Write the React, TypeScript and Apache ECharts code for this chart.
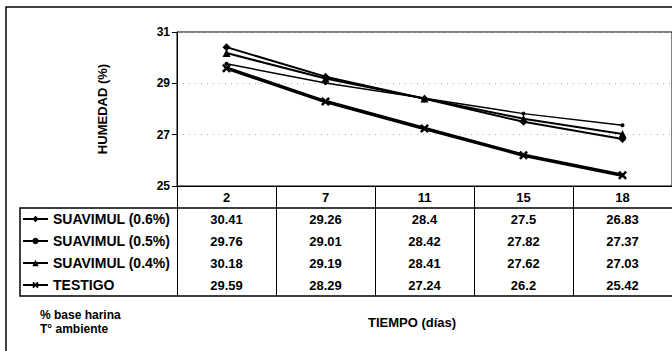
import React, { useEffect, useRef } from "react";
import * as echarts from "echarts";

const categories = ["2", "7", "11", "15", "18"];
const seriesNames = ["SUAVIMUL (0.6%)", "SUAVIMUL (0.5%)", "SUAVIMUL (0.4%)", "TESTIGO"];
const suav06 = [30.41, 29.26, 28.4, 27.5, 26.83];
const suav05 = [29.76, 29.01, 28.42, 27.82, 27.37];
const suav04 = [30.18, 29.19, 28.41, 27.62, 27.03];
const testigo = [29.59, 28.29, 27.24, 26.2, 25.42];
const yTicks = { min: 25, max: 31, interval: 2 };
const yTitle = "HUMEDAD (%)";
const xTitle = "TIEMPO (días)";
const footnote = ["% base harina", "T° ambiente"];

const FONT = "Arial, 'Liberation Sans', sans-serif";
const X_SYMBOL =
  "path://M2,0 L5,3 L8,0 L10,2 L7,5 L10,8 L8,10 L5,7 L2,10 L0,8 L3,5 L0,2 Z";

export default function App() {
  const ref = useRef<HTMLDivElement>(null);
  useEffect(() => {
    if (!ref.current) return;
    const chart = echarts.init(ref.current, null, { renderer: "svg" });
    const allData = [suav06, suav05, suav04, testigo];
    const symbols = ["diamond", "circle", "triangle", X_SYMBOL];
    const symbolSizes = [8, 4, 8, 9];
    const widths = [2, 1.5, 2, 3.5];
    chart.setOption({
      animation: false,
      backgroundColor: "#fff",
      grid: {
        left: 177,
        right: -5,
        top: 32,
        bottom: 165,
        show: true,
        borderColor: "#000",
        borderWidth: 1,
      },
      legend: {
        orient: "vertical",
        left: 22,
        top: 212,
        padding: 0,
        itemWidth: 25,
        itemHeight: 8,
        itemGap: 8,
        selectedMode: false,
        textStyle: {
          fontFamily: FONT,
          fontWeight: "bold",
          fontSize: 14,
          color: "#000",
          lineHeight: 14,
          padding: [0, 0, 0, 0],
        },
        data: seriesNames,
      },
      xAxis: {
        type: "category",
        data: categories,
        boundaryGap: true,
        axisLine: { lineStyle: { color: "#000", width: 1 } },
        axisTick: {
          show: true,
          interval: 0,
          length: 110,
          lineStyle: { color: "#000", width: 1 },
        },
        axisLabel: {
          interval: 0,
          margin: 0,
          formatter: (val: string, idx: number) => {
            const lines = [`{h|${val}}`];
            allData.forEach((arr) => lines.push(`{v|${arr[idx]}}`));
            return lines.join("\n");
          },
          rich: {
            h: {
              fontFamily: FONT,
              fontWeight: "bold",
              fontSize: 13,
              lineHeight: 22,
              color: "#000",
            },
            v: {
              fontFamily: FONT,
              fontWeight: "bold",
              fontSize: 13,
              lineHeight: 22,
              color: "#000",
            },
          },
        },
        splitLine: { show: false },
      },
      yAxis: {
        type: "value",
        min: yTicks.min,
        max: yTicks.max,
        interval: yTicks.interval,
        name: yTitle,
        nameLocation: "middle",
        nameGap: 68,
        nameRotate: 90,
        nameTextStyle: {
          fontFamily: FONT,
          fontWeight: "bold",
          fontSize: 13,
          color: "#000",
        },
        axisLine: { show: true, lineStyle: { color: "#000", width: 1 } },
        axisTick: { show: true, length: 5, lineStyle: { color: "#000" } },
        axisLabel: {
          margin: 7,
          fontFamily: FONT,
          fontWeight: "bold",
          fontSize: 12,
          color: "#000",
        },
        splitLine: {
          show: true,
          lineStyle: { color: "#aaa", type: [1, 5], width: 1 },
        },
      },
      series: allData.map((arr, i) => ({
        name: seriesNames[i],
        type: "line",
        data: arr,
        symbol: symbols[i],
        symbolSize: symbolSizes[i],
        showSymbol: true,
        lineStyle: { color: "#000", width: widths[i] },
        itemStyle: { color: "#000", borderColor: "#000", borderWidth: 0 },
      })),
      graphic: [
        {
          type: "rect",
          shape: { x: 6, y: 7, width: 720, height: 400 },
          style: { fill: "none", stroke: "#000", lineWidth: 1.5 },
          silent: true,
          z: -1,
        },
        {
          type: "rect",
          shape: { x: 20, y: 208, width: 700, height: 88 },
          style: { fill: "none", stroke: "#000", lineWidth: 1.5 },
          silent: true,
        },
        {
          type: "text",
          x: 412,
          y: 322,
          style: {
            text: xTitle,
            fontFamily: FONT,
            fontWeight: "bold",
            fontSize: 13,
            fill: "#000",
            align: "center",
            verticalAlign: "middle",
          },
        },
        {
          type: "text",
          x: 40,
          y: 308,
          style: {
            text: footnote.join("\n"),
            fontFamily: FONT,
            fontWeight: "bold",
            fontSize: 12,
            lineHeight: 14,
            fill: "#000",
            align: "left",
            verticalAlign: "top",
          },
        },
      ],
    });
    return () => chart.dispose();
  }, []);
  return (
    <div
      ref={ref}
      style={{ position: "fixed", left: 0, top: 0, width: 672, height: 351, background: "#fff" }}
    />
  );
}
